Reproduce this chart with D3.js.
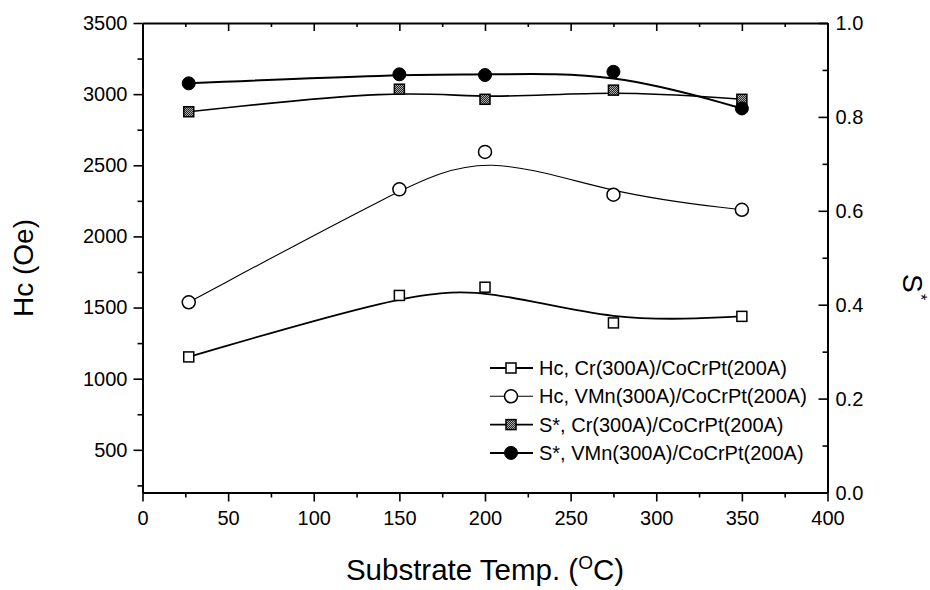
<!DOCTYPE html>
<html>
<head>
<meta charset="utf-8">
<script src="https://cdn.jsdelivr.net/npm/d3@7"></script>
<style>
  html, body { margin: 0; padding: 0; background: #fff; }
  svg { display: block; }
  text { font-family: "Liberation Sans", Arial, Helvetica, sans-serif; fill: #000; }
</style>
</head>
<body>
<svg id="chart" width="930" height="590"></svg>
<script>
// ---------- data ----------
const temps = [27, 150, 200, 275, 350];
const hcCr = [1153, 1585, 1643, 1392, 1438];
const hcVMn = [1537, 2331, 2594, 2293, 2187];
const sCr = [0.811, 0.859, 0.8375, 0.857, 0.8375];
const sVMn = [0.8715, 0.8907, 0.8892, 0.896, 0.818];

const xTicks = [0, 50, 100, 150, 200, 250, 300, 350, 400];
const hcTicks = [500, 1000, 1500, 2000, 2500, 3000, 3500];
const sTicks = [0.0, 0.2, 0.4, 0.6, 0.8, 1.0];
const legendLabels = [
  "Hc, Cr(300A)/CoCrPt(200A)",
  "Hc, VMn(300A)/CoCrPt(200A)",
  "S*, Cr(300A)/CoCrPt(200A)",
  "S*, VMn(300A)/CoCrPt(200A)"
];

// ---------- layout ----------
const L = 142.5, R = 827.5, T = 23, B = 492.5;
const svg = d3.select("#chart");

const x = d3.scaleLinear().domain([0, 400]).range([L, R]);
const yHc = d3.scaleLinear().domain([200, 3500]).range([B, T]);
const yS = d3.scaleLinear().domain([0, 1]).range([B, T]);

// checker pattern for filled squares
const defs = svg.append("defs");
const pat = defs.append("pattern").attr("id", "chk").attr("width", 2).attr("height", 2)
  .attr("patternUnits", "userSpaceOnUse");
pat.append("rect").attr("width", 2).attr("height", 2).attr("fill", "#2a2a2a");
pat.append("rect").attr("width", 1).attr("height", 1).attr("fill", "#aaa");
pat.append("rect").attr("x", 1).attr("y", 1).attr("width", 1).attr("height", 1).attr("fill", "#aaa");

// ---------- axes ----------
function styleAxis(g) {
  g.selectAll("path.domain").attr("stroke", "#000").attr("stroke-width", 2);
  g.selectAll(".tick line").attr("stroke", "#000").attr("stroke-width", 1.6);
  g.selectAll(".tick text").attr("font-size", "20px").attr("fill", "#000")
    .attr("font-family", "'Liberation Sans', Arial, sans-serif");
}

const xMinor = d3.range(25, 400, 50);
const hcMinor = d3.range(250, 3500, 500);
const sMinor = d3.range(0.1, 1.0, 0.2);

// bottom
const gB = svg.append("g").attr("transform", `translate(0,${B})`);
gB.call(d3.axisBottom(x).tickValues(xTicks).tickSize(9).tickPadding(9).tickSizeOuter(0).tickFormat(d3.format("d")));
gB.append("g").call(d3.axisBottom(x).tickValues(xMinor).tickSize(5).tickFormat("").tickSizeOuter(0))
  .select("path.domain").remove();
styleAxis(gB);

// top (inward ticks)
const gT = svg.append("g").attr("transform", `translate(0,${T})`);
gT.call(d3.axisBottom(x).tickValues(xTicks).tickSize(8).tickFormat("").tickSizeOuter(0));
gT.append("g").call(d3.axisBottom(x).tickValues(xMinor).tickSize(4).tickFormat("").tickSizeOuter(0))
  .select("path.domain").remove();
styleAxis(gT);

// left
const gL = svg.append("g").attr("transform", `translate(${L},0)`);
gL.call(d3.axisLeft(yHc).tickValues(hcTicks).tickSize(9).tickPadding(6).tickSizeOuter(0).tickFormat(d3.format("d")));
gL.append("g").call(d3.axisLeft(yHc).tickValues(hcMinor).tickSize(5).tickFormat("").tickSizeOuter(0))
  .select("path.domain").remove();
styleAxis(gL);

// right (inward ticks)
const gR = svg.append("g").attr("transform", `translate(${R},0)`);
gR.call(d3.axisLeft(yS).tickValues(sTicks).tickSize(9).tickFormat("").tickSizeOuter(0));
gR.append("g").call(d3.axisLeft(yS).tickValues(sMinor).tickSize(5).tickFormat("").tickSizeOuter(0))
  .select("path.domain").remove();
styleAxis(gR);
svg.append("g").selectAll("text").data(sTicks).enter().append("text")
  .attr("x", R + 8).attr("y", d => yS(d) + 7)
  .attr("text-anchor", "start")
  .attr("font-size", "20px")
  .text(d => d3.format(".1f")(d));

// ---------- axis titles ----------
svg.append("text")
  .attr("x", (L + R) / 2).attr("y", 580)
  .attr("text-anchor", "middle").attr("font-size", "29.5px")
  .call(t => {
    t.append("tspan").text("Substrate Temp. (");
    t.append("tspan").attr("font-size", "19px").attr("dy", -11).text("O");
    t.append("tspan").attr("dy", 11).text("C)");
  });

svg.append("text")
  .attr("transform", `translate(33,268) rotate(-90)`)
  .attr("text-anchor", "middle").attr("font-size", "28px")
  .text("Hc (Oe)");

svg.append("text")
  .attr("transform", `translate(903,274) rotate(90)`)
  .attr("text-anchor", "start").attr("font-size", "28px")
  .text("S");
svg.append("text")
  .attr("transform", `translate(915,294) rotate(90)`)
  .attr("text-anchor", "start").attr("font-size", "16px")
  .text("*");

// ---------- series ----------
const series = [
  { vals: hcCr, y: yHc, marker: "sqOpen", width: 1.8 },
  { vals: hcVMn, y: yHc, marker: "circOpen", width: 1.1 },
  { vals: sCr, y: yS, marker: "sqFill", width: 1.6 },
  { vals: sVMn, y: yS, marker: "circFill", width: 2.0 }
];

const plot = svg.append("g");
series.forEach(s => {
  const pts = temps.map((t, i) => [x(t), s.y(s.vals[i])]);
  plot.append("path")
    .attr("d", d3.line().curve(d3.curveBasis)(pts))
    .attr("fill", "none").attr("stroke", "#000").attr("stroke-width", s.width);
});

function drawMarker(g, type, cx, cy) {
  if (type === "sqOpen") {
    g.append("rect").attr("x", cx - 5).attr("y", cy - 5).attr("width", 10).attr("height", 10)
      .attr("fill", "#fff").attr("stroke", "#000").attr("stroke-width", 1.5);
  } else if (type === "circOpen") {
    g.append("circle").attr("cx", cx).attr("cy", cy).attr("r", 6.5)
      .attr("fill", "#fff").attr("stroke", "#000").attr("stroke-width", 1.5);
  } else if (type === "sqFill") {
    g.append("rect").attr("x", cx - 5).attr("y", cy - 5).attr("width", 10).attr("height", 10)
      .attr("fill", "url(#chk)").attr("stroke", "#000").attr("stroke-width", 1.5);
  } else {
    g.append("circle").attr("cx", cx).attr("cy", cy).attr("r", 6.5)
      .attr("fill", "#000").attr("stroke", "#000").attr("stroke-width", 1);
  }
}

series.forEach(s => {
  temps.forEach((t, i) => drawMarker(plot, s.marker, x(t), s.y(s.vals[i])));
});

// ---------- legend ----------
const leg = svg.append("g");
legendLabels.forEach((lab, i) => {
  const cy = 368 + i * 28.3;
  leg.append("line").attr("x1", 490).attr("x2", 533).attr("y1", cy).attr("y2", cy)
    .attr("stroke", "#000").attr("stroke-width", series[i].width);
  drawMarker(leg, series[i].marker, 511, cy);
  leg.append("text").attr("x", 539).attr("y", cy + 7).attr("font-size", "20px").text(lab);
});
</script>
</body>
</html>
